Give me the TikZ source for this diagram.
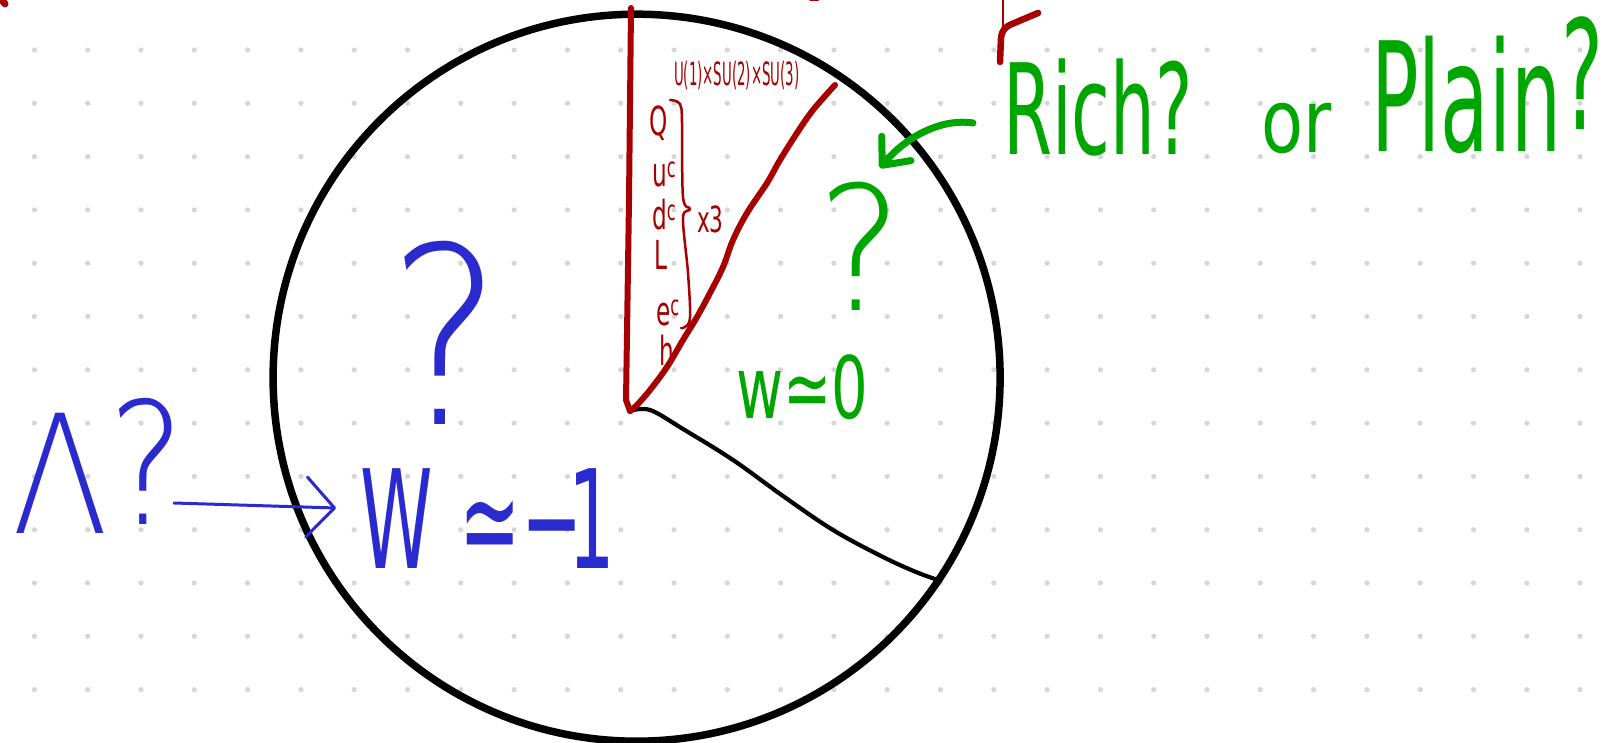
\documentclass[tikz,border=0pt]{standalone}
\usepackage{fontspec}
\usetikzlibrary{arrows.meta}
\newfontfamily\handfont{DejaVu Sans}
\newfontfamily\handthin{DejaVuSans-ExtraLight.ttf}
\definecolor{inkred}{RGB}{166,0,0}
\definecolor{inkblue}{RGB}{42,42,206}
\definecolor{inkgreen}{RGB}{0,166,0}
\definecolor{dotgray}{RGB}{214,214,214}
\newcommand{\fs}[1]{\fontsize{#1}{#1}\selectfont}
\begin{document}
\begin{tikzpicture}[x=1pt,y=-1pt,
  redink/.style={draw=inkred, line width=6, line cap=round, line join=round},
  blackink/.style={draw=black, line cap=round, line join=round},
  blueink/.style={draw=inkblue, line cap=round, line join=round},
  greenink/.style={draw=inkgreen, line cap=round, line join=round},
  redtxt/.style={text=inkred, inner sep=0, anchor=base west},
  bluetxt/.style={text=inkblue, inner sep=0},
  greentxt/.style={text=inkgreen, inner sep=0}]
\useasboundingbox[fill=white] (0,0) rectangle (1614,743);
% dot grid
\foreach \i in {0,...,29} {\foreach \j in {0,...,12} {
  \fill[dotgray] (34.4+53.3*\i, 50+53.3*\j) circle[radius=2.6pt];}}
% pie
\draw[blackink, line width=7.5] (636.6,377.7) circle[radius=363.5pt];
\draw[blackink, line width=4.2] plot[smooth, tension=0.6] coordinates {(630,411) (650,410) (683,429) (733,460) (783,496) (833,530) (883,557) (916,572) (938,580)};
\draw[redink] (631,8) -- (629,200) -- (626,400) -- (630,411);
\draw[redink] plot[smooth, tension=0.6] coordinates {(630,411) (637,405) (650,390) (667,367) (683,340) (697,317) (710,293) (723,267) (733,240) (747,213) (767,183) (780,160) (797,133) (813,110) (835,85)};
% red fragments at the top
\draw[redink, line width=2.5] (1003,0) -- (1003,32);
\draw[redink, line width=6.5] (1000,62) -- (1001,38) .. controls (1002,30) and (1005,27) .. (1012,24) -- (1038,13);
\draw[redink, line width=7] (2,0) -- (5,4);
\draw[redink, line width=2] (810,0.5) -- (818,0.5);
% red labels
\node[redtxt, font=\handfont\fs{32}, xscale=0.417] (gauge) at (674,86) {U(1)×SU(2)×SU(3)};
\node[redtxt, font=\handfont\fs{40}, xscale=0.58] (fq) at (649,136) {Q};
\node[redtxt, font=\handfont\fs{40}, xscale=0.58] (fu) at (652,187) {u\textsuperscript{c}};
\node[redtxt, font=\handfont\fs{40}, xscale=0.58] (fd) at (652,230) {d\textsuperscript{c}};
\node[redtxt, font=\handfont\fs{40}, xscale=0.58] (fl) at (654,270) {L};
\node[redtxt, font=\handfont\fs{40}, xscale=0.58] (fe) at (656,325) {e\textsuperscript{c}};
\node[redtxt, font=\handfont\fs{40}, xscale=0.58] (fh) at (659,365) {h};
\draw[redink, line width=2.5] plot[smooth, tension=0.6] coordinates {(670,100) (680,104) (682,123) (683,197) (690,209) (683,218) (688,273) (690,317) (685,327) (681,328)};
\node[redtxt, font=\handfont\fs{36}, xscale=0.6] (x3) at (697,233) {x3};
% blue
\node[bluetxt, font=\handthin\fs{247}, xscale=0.87, anchor=base] (bq) at (446,424) {?};
\node[bluetxt, font=\handthin\fs{165}, xscale=0.85, anchor=base west] (lam) at (12,533) {Λ{\fs{170}\raisebox{9pt}{?}}};
\node[bluetxt, font=\handfont\fs{137}, xscale=0.535, anchor=base west] (wm) at (360,568) {W\hspace{50pt}≃\hspace{2pt}−\hspace{-28pt}1};
\coordinate (ba) at (174,503);
\coordinate (bb) at (336,508);
\draw[blueink, line width=3, -{Straight Barb[length=28pt,width=60pt,round]}] (ba) -- (bb);
% green
\node[greentxt, font=\handthin\fs{173}, xscale=0.93, anchor=base] (gq) at (860,310) {?};
\node[greentxt, font=\handfont\fs{86}, xscale=0.67, anchor=base west] (w0) at (736,418) {w≃0};
\node[greentxt, font=\handfont\fs{126}, xscale=0.56, anchor=base west] (rich) at (1003,155) {Rich?};
\node[greentxt, font=\handfont\fs{88}, xscale=0.78, anchor=base west] (or) at (1261,153) {or};
\node[greentxt, font=\handfont\fs{152}, xscale=0.52, anchor=base west] (plain) at (1371,152) {Plain\raisebox{22pt}{?}};
\coordinate (ga) at (973,123);
\coordinate (gb) at (880,168);
\draw[greenink, line width=7, -{Straight Barb[length=22pt,width=38pt,round]}] (ga) .. controls (940,118) and (905,138) .. (gb);
\end{tikzpicture}
\end{document}
